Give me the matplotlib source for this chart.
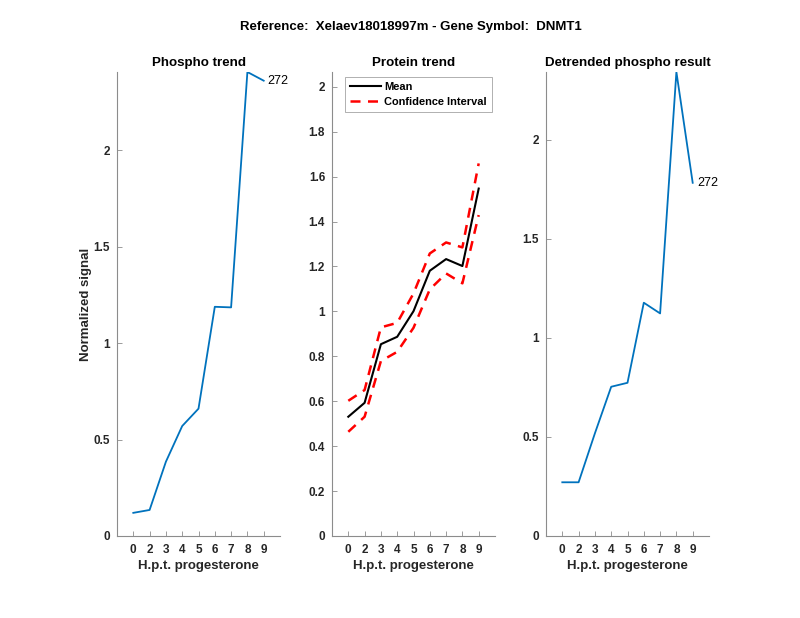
import numpy as np
import matplotlib
matplotlib.use("Agg")
import matplotlib.pyplot as plt

plt.rcParams['font.family'] = ['Liberation Sans', 'DejaVu Sans']

## data
hours = ['0', '2', '3', '4', '5', '6', '7', '8', '9']
phospho = [0.12, 0.135, 0.385, 0.57, 0.66, 1.188, 1.185, 2.405, 2.36]
prot_mean = [0.531, 0.593, 0.854, 0.887, 1.001, 1.181, 1.233, 1.202, 1.547]
prot_upper = [0.602, 0.650, 0.929, 0.949, 1.080, 1.258, 1.307, 1.285, 1.659]
prot_lower = [0.464, 0.531, 0.779, 0.820, 0.927, 1.098, 1.169, 1.125, 1.429]
detrended = [0.271, 0.271, 0.518, 0.753, 0.773, 1.177, 1.123, 2.341, 1.782]
site_label = '272'

blue = '#0072BD'
txt = '#262626'
axcol = '#8c8c8c'

fig = plt.figure(figsize=(8, 6.18), dpi=100)
lefts = [117/800, 332/800, 546/800]
w = 163/800
bot = (618-536)/618
h = (536-72)/618
axs = [fig.add_axes([l, bot, w, h]) for l in lefts]

x = np.arange(1, len(hours)+1)


def style(ax, title, yticks, ytop):
    ax.set_xlim(0, 10)
    ax.set_ylim(0, ytop)
    ax.set_xticks(x)
    ax.set_xticklabels(hours)
    ax.set_yticks(yticks)
    ax.set_yticklabels(['%g' % v for v in yticks])
    for s in ['top', 'right']:
        ax.spines[s].set_visible(False)
    for s in ['left', 'bottom']:
        ax.spines[s].set_color(axcol)
        ax.spines[s].set_linewidth(0.8)
    ax.tick_params(direction='in', length=3.5, width=0.6, color=axcol,
                   labelsize=8.5, labelcolor=txt)
    ax.tick_params(axis='x', pad=6)
    ax.tick_params(axis='y', pad=5)
    for lab in ax.get_xticklabels() + ax.get_yticklabels():
        lab.set_fontweight('bold')
    ax.set_title(title, fontsize=9.6, fontweight='bold', color='black', pad=4)
    ax.set_xlabel('H.p.t. progesterone', fontsize=9.5, fontweight='bold',
                  color=txt, labelpad=2.5)


# Phospho trend
ax1 = axs[0]
ax1.plot(x, phospho, color=blue, lw=1.3)
ax1.text(x[-1] + 0.25, phospho[-1], site_label, fontsize=9, va='center', ha='left')
style(ax1, 'Phospho trend', [0, 0.5, 1, 1.5, 2], 2.405)
ax1.set_ylabel('Normalized signal', fontsize=9.5, fontweight='bold', color=txt, labelpad=1)

# Protein trend
ax2 = axs[1]
ax2.plot(x, prot_mean, color='black', lw=1.5, label='Mean')
ax2.plot(x, prot_upper, color='red', lw=1.8, ls=(0, (4, 3)), label='Confidence Interval')
ax2.plot(x, prot_lower, color='red', lw=1.8, ls=(0, (4, 3)))
style(ax2, 'Protein trend', np.round(np.arange(0, 2.01, 0.2), 1), 2.066)
leg = ax2.legend(loc='upper left', fontsize=7.9, frameon=True, fancybox=False,
                 borderpad=0.45, handlelength=2.8, handletextpad=0.3,
                 labelspacing=0.45, borderaxespad=0,
                 bbox_to_anchor=(0.08, 0.989))
leg.get_frame().set_edgecolor(axcol)
leg.get_frame().set_linewidth(0.6)
for t in leg.get_texts():
    t.set_fontweight('bold')

# Detrended
ax3 = axs[2]
ax3.plot(x, detrended, color=blue, lw=1.3)
ax3.text(x[-1] + 0.3, detrended[-1], site_label, fontsize=9, va='center', ha='left')
style(ax3, 'Detrended phospho result', [0, 0.5, 1, 1.5, 2], 2.341)

fig.suptitle('Reference:  Xelaev18018997m - Gene Symbol:  DNMT1', fontsize=9.5,
             fontweight='bold', x=0.514, y=0.966)

fig.savefig('out.png', dpi=100, facecolor='white')
